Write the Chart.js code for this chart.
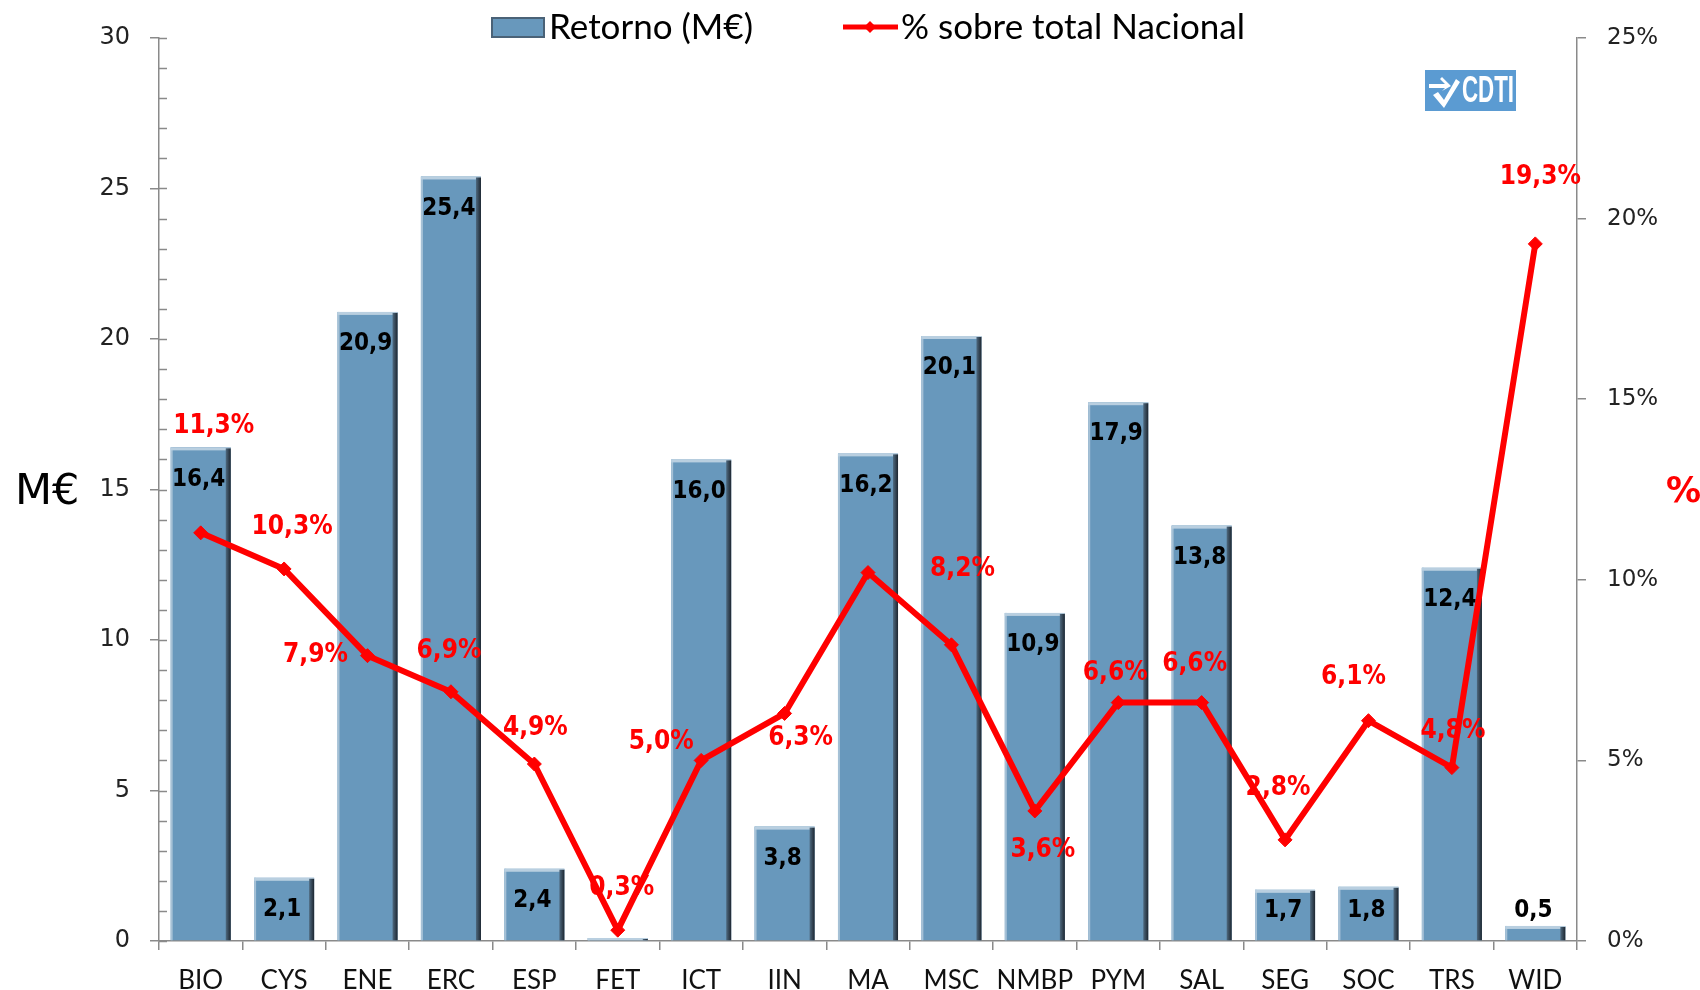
<!DOCTYPE html>
<html><head><meta charset="utf-8">
<script src="https://cdn.jsdelivr.net/npm/chart.js@4.4.1/dist/chart.umd.min.js"></script>
<style>html,body{margin:0;padding:0;background:#fff;overflow:hidden}#wrap{width:1700px;height:990px;position:relative}</style>
</head><body><div id="wrap"><canvas id="c" width="1700" height="990"></canvas></div>
<script>
// ---- data ----
const categories = ['BIO','CYS','ENE','ERC','ESP','FET','ICT','IIN','MA','MSC','NMBP','PYM','SAL','SEG','SOC','TRS','WID'];
const retorno = [16.4,2.1,20.9,25.4,2.4,0.1,16.0,3.8,16.2,20.1,10.9,17.9,13.8,1.7,1.8,12.4,0.5];
const porcentaje = [11.3,10.3,7.9,6.9,4.9,0.3,5.0,6.3,10.2,8.2,3.6,6.6,6.6,2.8,6.1,4.8,19.3];
const leftTicks = [0,5,10,15,20,25,30];
const rightTicks = [0,5,10,15,20,25];
const seriesNames = ['Retorno (M€)','% sobre total Nacional'];
const leftTitle = 'M€';
const rightTitle = '%';
const logoText = 'CDTI';
// which labels are shown in the original
const showBarLabel = [true,true,true,true,true,false,true,true,true,true,true,true,true,true,true,true,true];
const showPctLabel = [true,true,true,true,true,true,true,true,false,true,true,true,true,true,true,true,true];
// label placement (pixel offsets from the point)
const pctLabelOffsets = [[13,-107],[8,-42],[-52,0],[-2,-41],[1,-36],[4,-42],[-40,-18],[16,25],[0,-40],[11,-76],[8,39],[-3,-29],[-7,-38],[-7,-52],[-15,-43],[1,-36],[5,-67]];

const fmt = v => v.toFixed(1).replace('.', ',');
const AX = '#8a8a8a';

const barColor = '#6898bc';

const decorPlugin = {
  id: 'decor',
  afterDatasetDraw(chart, args) {
    if (args.index !== 0) return;
    const ctx = chart.ctx;
    const meta = chart.getDatasetMeta(0);
    ctx.save();
    meta.data.forEach((bar, i) => {
      const w = bar.width, l = bar.x - w/2, r = bar.x + w/2, t = bar.y, b = bar.base;
      const h = b - t;
      ctx.fillStyle = '#a6c1d6';
      ctx.fillRect(l, t, 2, h);
      ctx.fillStyle = '#b9cfe0';
      ctx.fillRect(l, t, w, Math.min(3, h));
      const g = ctx.createLinearGradient(r - 5, 0, r, 0);
      g.addColorStop(0, '#4f6a80');
      g.addColorStop(1, '#1d2630');
      ctx.fillStyle = g;
      ctx.fillRect(r - 5, t + 1, 5, h - 1);
    });
    ctx.font = 'bold 24px "DejaVu Sans Condensed", "DejaVu Sans"';
    ctx.fillStyle = '#000';
    ctx.textAlign = 'center';
    ctx.textBaseline = 'middle';
    meta.data.forEach((bar, i) => {
      if (!showBarLabel[i]) return;
      const y = Math.min(bar.y + 32, bar.base - 29);
      ctx.fillText(fmt(retorno[i]), bar.x - 2, y);
    });
    ctx.restore();
  },
  afterDraw(chart) {
    const ctx = chart.ctx;
    const ys = chart.scales.y, ca = chart.chartArea;
    ctx.save();
    ctx.strokeStyle = AX; ctx.lineWidth = 1.5;
    for (let v = 0; v <= 30; v++) {
      const py = Math.round(ys.getPixelForValue(v)) + 0.5;
      ctx.beginPath(); ctx.moveTo(ca.left, py); ctx.lineTo(ca.left + 8, py); ctx.stroke();
    }
    const lm = chart.getDatasetMeta(1);
    ctx.font = 'bold 26px "DejaVu Sans Condensed", "DejaVu Sans"';
    ctx.fillStyle = '#ff0000';
    ctx.textAlign = 'center'; ctx.textBaseline = 'middle';
    lm.data.forEach((p, i) => {
      if (!showPctLabel[i]) return;
      const o = pctLabelOffsets[i];
      ctx.fillText(fmt(porcentaje[i]) + '%', p.x + o[0], p.y + o[1]);
    });
    const midY = (ca.top + ca.bottom) / 2;
    ctx.fillStyle = '#000';
    ctx.font = '43px "DejaVu Sans"';
    ctx.textAlign = 'left';
    ctx.fillText(leftTitle, 15, midY + 3);
    ctx.fillStyle = '#ff0000';
    ctx.font = 'bold 35px "DejaVu Sans"';
    ctx.fillText(rightTitle, 1666, midY + 3);
    // legend
    ctx.font = '35px Lato';
    ctx.textBaseline = 'middle';
    const ly = 27;
    ctx.fillStyle = barColor;
    ctx.fillRect(491, 17, 54, 21);
    ctx.strokeStyle = '#4a6277'; ctx.lineWidth = 2;
    ctx.strokeRect(492, 18, 52, 19);
    ctx.fillStyle = '#000';
    ctx.fillText(seriesNames[0], 549, ly + 1);
    ctx.strokeStyle = '#ff0000'; ctx.lineWidth = 5;
    ctx.beginPath(); ctx.moveTo(843, ly); ctx.lineTo(898, ly); ctx.stroke();
    ctx.fillStyle = '#ff0000';
    ctx.beginPath(); ctx.moveTo(870, ly - 6); ctx.lineTo(876, ly); ctx.lineTo(870, ly + 6); ctx.lineTo(864, ly); ctx.closePath(); ctx.fill();
    ctx.fillStyle = '#000';
    ctx.fillText(seriesNames[1], 901, ly + 1);
    // CDTI logo
    const lx = 1425, lyy = 70, lw = 91, lh = 41;
    ctx.fillStyle = '#5b9bd2';
    ctx.fillRect(lx, lyy, lw, lh);
    ctx.fillStyle = '#fff';
    ctx.beginPath();
    ctx.moveTo(lx + 4, lyy + 14); ctx.lineTo(lx + 20, lyy + 14); ctx.lineTo(lx + 15, lyy + 9); ctx.lineTo(lx + 17, lyy + 7);
    ctx.lineTo(lx + 26, lyy + 16); ctx.lineTo(lx + 17, lyy + 21); ctx.lineTo(lx + 20, lyy + 18); ctx.lineTo(lx + 4, lyy + 18); ctx.closePath(); ctx.fill();
    ctx.beginPath();
    ctx.moveTo(lx + 8, lyy + 25); ctx.lineTo(lx + 13, lyy + 22); ctx.lineTo(lx + 19, lyy + 30);
    ctx.lineTo(lx + 31, lyy + 9); ctx.lineTo(lx + 35, lyy + 12); ctx.lineTo(lx + 19, lyy + 38); ctx.closePath(); ctx.fill();
    ctx.save();
    ctx.translate(lx + 37, lyy + 21);
    ctx.scale(0.62, 1);
    ctx.font = 'bold 36px "Liberation Sans Narrow", "Liberation Sans"';
    ctx.textAlign = 'left'; ctx.textBaseline = 'middle';
    ctx.fillText(logoText, 0, 1);
    ctx.restore();
    ctx.restore();
  }
};

new Chart(document.getElementById('c'), {
  data: {
    labels: categories,
    datasets: [
      { type: 'bar', label: seriesNames[0], data: retorno, yAxisID: 'y', order: 2,
        backgroundColor: barColor, borderWidth: 0, categoryPercentage: 0.8, barPercentage: 0.9 },
      { type: 'line', label: seriesNames[1], data: porcentaje, yAxisID: 'y1', order: 1,
        borderColor: '#ff0000', backgroundColor: '#ff0000', borderWidth: 6, tension: 0,
        pointStyle: 'rectRot', pointRadius: 7, pointBackgroundColor: '#ff0000', pointBorderColor: '#ff0000', pointBorderWidth: 1 }
    ]
  },
  options: {
    responsive: false, animation: false, devicePixelRatio: 1,
    layout: { padding: { top: 38, left: 0, right: 0, bottom: 0 } },
    plugins: { legend: { display: false }, tooltip: { enabled: false } },
    scales: {
      x: {
        offset: true,
        grid: { offset: true, drawOnChartArea: false, drawTicks: true, tickLength: 9, color: AX, lineWidth: 1.5 },
        border: { color: AX, width: 1.5 },
        ticks: { font: { family: 'Lato', size: 26 }, color: '#111', padding: 15, maxRotation: 0, autoSkip: false },
        afterFit: s => { s.height = 49; }
      },
      y: {
        position: 'left', min: 0, max: 30,
        afterBuildTicks: s => { s.ticks = leftTicks.map(v => ({ value: v })); },
        grid: { drawOnChartArea: false, drawTicks: true, tickLength: 9, color: AX, lineWidth: 1.5 },
        border: { color: AX, width: 1.5 },
        ticks: { font: { family: 'DejaVu Sans', size: 24 }, color: '#222', padding: 20 },
        afterFit: s => { s.width = 159; }
      },
      y1: {
        position: 'right', min: 0, max: 25,
        afterBuildTicks: s => { s.ticks = rightTicks.map(v => ({ value: v })); },
        grid: { drawOnChartArea: false, drawTicks: true, tickLength: 9, color: AX, lineWidth: 1.5 },
        border: { color: AX, width: 1.5 },
        ticks: { font: { family: 'DejaVu Sans', size: 23 }, color: '#222', padding: 21, callback: v => v + '%' },
        afterFit: s => { s.width = 123; }
      }
    }
  },
  plugins: [decorPlugin]
});
</script></body></html>
